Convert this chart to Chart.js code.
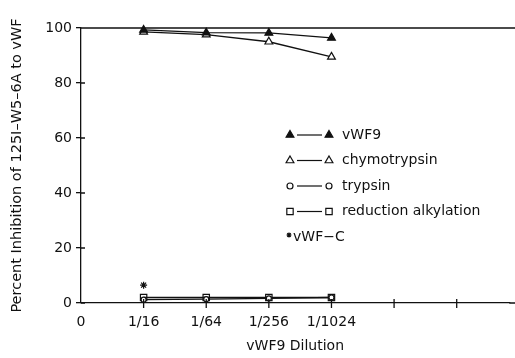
<!DOCTYPE html>
<html>
<head>
<meta charset="utf-8">
<script src="https://cdn.jsdelivr.net/npm/chart.js@4/dist/chart.umd.min.js"></script>
<style>
body{margin:0;background:#fff}
#wrap{width:515px;height:358px;position:relative}
</style>
</head>
<body>
<div id="wrap"><canvas id="c"></canvas></div>
<script>
// dilution positions on x axis are 1..4
const dilutions=["1/16","1/64","1/256","1/1024"]
const tickLabels=["0","1/16","1/64","1/256","1/1024","",""]
const vwf9=[99.3,98.3,98.2,96.4]
const chymotrypsin=[98.6,97.6,95.0,89.5]
const trypsin=[1.2,1.4,1.7,2.0]
const reductionAlkylation=[2.0,2.0,2.0,2.0]
const vwfC=[6.5]

const pts=arr=>arr.map((y,i)=>({x:i+1,y}))
const FONT="'DejaVu Sans'"
const ink="#111"

const innerTicks={
  id:"innerTicks",
  afterDraw(chart){
    const {ctx,chartArea:a,scales:{x,y}}=chart
    ctx.save()
    ctx.strokeStyle=ink
    ctx.lineWidth=1.3
    ctx.beginPath()
    // top reference line at 100 and axis line run to the edge
    const y100=y.getPixelForValue(100)
    ctx.moveTo(a.left,y100);ctx.lineTo(chart.width,y100)
    ctx.moveTo(a.right,a.bottom);ctx.lineTo(chart.width,a.bottom)
    y.ticks.forEach(t=>{
      const py=y.getPixelForValue(t.value)
      ctx.moveTo(a.left,py);ctx.lineTo(a.left+4,py)
    })
    x.ticks.forEach(t=>{
      if(t.value===0||!Number.isInteger(t.value))return
      const px=x.getPixelForValue(t.value)
      ctx.moveTo(px,a.bottom+5);ctx.lineTo(px,a.bottom-4)
    })
    ctx.stroke()
    ctx.restore()
  }
}

const legendBox={
  id:"legendBox",
  afterDraw(chart){
    const {ctx}=chart
    const x0=290,x1=329,tx=342,y0=135,dy=25.5
    ctx.save()
    ctx.font="14px "+FONT
    ctx.textBaseline="middle"
    chart.data.datasets.forEach((ds,i)=>{
      const yy=y0+i*dy
      ctx.strokeStyle=ink
      ctx.fillStyle=ds.pointBackgroundColor
      ctx.lineWidth=1.2
      const o={pointStyle:ds.pointStyle,radius:ds.legendRadius||ds.pointRadius,rotation:0,borderWidth:1.2}
      if(ds.pointStyle==="star"){
        Chart.helpers.drawPoint(ctx,{...o,radius:2.5},x0-1,yy-2)
        ctx.fillStyle=ink
        ctx.fillText(ds.label,x0+3,yy)
        return
      }
      ctx.beginPath();ctx.moveTo(x0+7,yy);ctx.lineTo(x1-7,yy);ctx.stroke()
      Chart.helpers.drawPoint(ctx,o,x0,yy)
      ctx.fillStyle=ds.pointBackgroundColor
      Chart.helpers.drawPoint(ctx,o,x1,yy)
      ctx.fillStyle=ink
      ctx.fillText(ds.label,tx,yy)
    })
    ctx.restore()
  }
}

const base={borderColor:ink,pointBorderColor:ink,borderWidth:1.3,pointBorderWidth:1.2,clip:false,showLine:true}

new Chart(document.getElementById("c"),{
  type:"scatter",
  data:{datasets:[
    {...base,label:"vWF9",data:pts(vwf9),pointStyle:"triangle",pointRadius:4.5,pointBackgroundColor:ink},
    {...base,label:"chymotrypsin",data:pts(chymotrypsin),pointStyle:"triangle",pointRadius:4.5,pointBackgroundColor:"#fff"},
    {...base,label:"trypsin",data:pts(trypsin),pointStyle:"circle",pointRadius:2.5,legendRadius:3,pointBackgroundColor:"#fff"},
    {...base,label:"reduction alkylation",data:pts(reductionAlkylation),pointStyle:"rect",pointRadius:4.5,pointBackgroundColor:"rgba(255,255,255,0)"},
    {...base,label:"vWF\u2212C",data:pts(vwfC),pointStyle:"star",pointRadius:3.5,showLine:false,pointBackgroundColor:ink}
  ]},
  options:{
    responsive:true,maintainAspectRatio:false,animation:false,
    layout:{padding:{top:28,right:-6,left:0,bottom:0}},
    plugins:{legend:{display:false},tooltip:{enabled:false}},
    scales:{
      x:{
        type:"linear",min:0,max:6.84,
        afterFit:s=>{s.height=55;s.paddingRight=0;s.paddingLeft=0},
        grid:{drawOnChartArea:false,drawTicks:false,color:ink,lineWidth:1.3},
        border:{color:ink,width:1.3},
        ticks:{stepSize:1,padding:11,color:ink,font:{family:FONT,size:14},maxRotation:0,
          callback:v=>tickLabels[v]??""},
        title:{display:true,text:"vWF9 Dilution",color:ink,font:{family:FONT,size:14},padding:{top:0,bottom:3}}
      },
      y:{
        min:0,max:100,
        afterFit:s=>{s.width=81},
        grid:{drawOnChartArea:false,tickLength:5,color:ink,lineWidth:1.3},
        border:{color:ink,width:1.3},
        ticks:{stepSize:20,padding:4,color:ink,font:{family:FONT,size:14}},
        title:{display:true,text:"Percent Inhibition of 125I\u2013W5\u20136A to vWF",color:ink,font:{family:FONT,size:14.5},padding:{top:9,bottom:0}}
      }
    }
  },
  plugins:[innerTicks,legendBox]
})
</script>
</body>
</html>
